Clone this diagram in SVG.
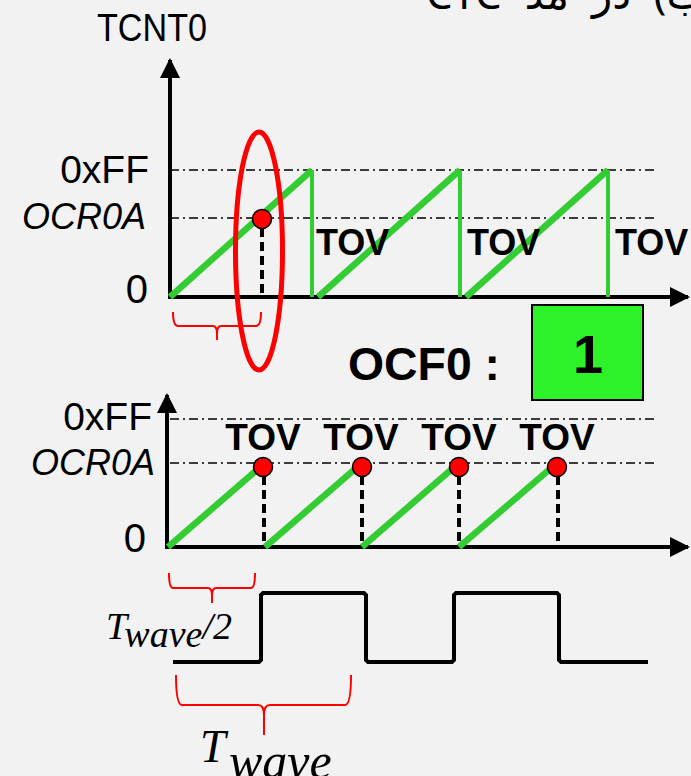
<svg xmlns="http://www.w3.org/2000/svg" width="691" height="776" viewBox="0 0 691 776">
<defs>
<style>
.ax{stroke:#000;stroke-width:4;fill:none}
.dd{stroke:#000;stroke-width:1.6;stroke-dasharray:9 4 2 4;fill:none}
.gr{stroke:#33cc33;stroke-width:6.5;fill:none;stroke-linecap:butt}
.grv{stroke:#33cc33;stroke-width:4;fill:none}
.vd{stroke:#000;stroke-width:4;stroke-dasharray:9 5;fill:none}
.dot{fill:#ff0000;stroke:#000;stroke-width:1.5}
.br{stroke:#ff0000;stroke-width:2;fill:none}
.lbl{font-family:"Liberation Sans",Arial,sans-serif;fill:#000}
.it{font-style:italic}
.b{font-weight:bold}
.m{font-family:"Liberation Serif","Times New Roman",serif;font-style:italic;fill:#000}
.fa{font-family:"Noto Sans","DejaVu Sans",sans-serif;fill:#000}
</style>
<marker id="ah" viewBox="0 0 10 10" refX="9" refY="5" markerWidth="5" markerHeight="5" orient="auto-start-reverse" markerUnits="strokeWidth">
<path d="M0,0 L10,5 L0,10 z" fill="#000"/>
</marker>
</defs>
<rect width="691" height="776" fill="#f2f2f2"/>
<text x="706" y="9" class="fa" font-size="42" word-spacing="12" direction="rtl" text-anchor="start">ب) در مد CTC</text>

<g id="top-chart">
<text x="97" y="41" class="lbl" font-size="38" textLength="110" lengthAdjust="spacingAndGlyphs">TCNT0</text>
<text x="149" y="183" class="lbl" font-size="39" text-anchor="end">0xFF</text>
<text x="146" y="229" class="lbl it" font-size="36" text-anchor="end">OCR0A</text>
<text x="148" y="303" class="lbl" font-size="40" text-anchor="end">0</text>
</g>

<g id="connectors">
<line x1="170" y1="299" x2="170" y2="60" class="ax" marker-end="url(#ah)"/>
<line x1="168" y1="297" x2="688" y2="297" class="ax" marker-end="url(#ah)"/>
<line x1="170" y1="170" x2="658" y2="170" class="dd"/>
<line x1="170" y1="218" x2="658" y2="218" class="dd"/>
<line x1="170" y1="297" x2="312" y2="170" class="gr"/>
<line x1="312" y1="170" x2="312" y2="297" class="grv"/>
<line x1="318" y1="297" x2="460" y2="170" class="gr"/>
<line x1="460" y1="170" x2="460" y2="297" class="grv"/>
<line x1="466" y1="297" x2="608" y2="170" class="gr"/>
<line x1="608" y1="170" x2="608" y2="297" class="grv"/>
<line x1="262" y1="228" x2="262" y2="296" class="vd"/>

<line x1="167" y1="549" x2="167" y2="395" class="ax" marker-end="url(#ah)"/>
<line x1="165" y1="547" x2="688" y2="547" class="ax" marker-end="url(#ah)"/>
<line x1="170" y1="419" x2="655" y2="419" class="dd"/>
<line x1="170" y1="463" x2="658" y2="463" class="dd"/>
<line x1="168" y1="547" x2="258" y2="469" class="gr"/>
<line x1="265" y1="547" x2="355" y2="469" class="gr"/>
<line x1="362" y1="547" x2="452" y2="469" class="gr"/>
<line x1="459" y1="547" x2="550" y2="469" class="gr"/>
<line x1="264" y1="476" x2="264" y2="545" class="vd"/>
<line x1="362" y1="476" x2="362" y2="545" class="vd"/>
<line x1="459" y1="476" x2="459" y2="545" class="vd"/>
<line x1="558" y1="476" x2="558" y2="545" class="vd"/>

<polyline points="173,662 259,662 261,660 261,595 263,593 364,593 366,595 366,660 368,662 452,662 454,660 454,595 456,593 557,593 559,595 559,660 561,662 648,662" fill="none" stroke="#000" stroke-width="4"/>
</g>

<g id="top-markers">
<circle cx="262" cy="219" r="9.5" class="dot"/>
<ellipse cx="259" cy="251" rx="23.5" ry="119" fill="none" stroke="#ff0000" stroke-width="5"/>
<path d="M173,312 Q173,326 178,326 L213,326 Q217,326 217,334 L217,340 M217,334 Q217,326 221,326 L256,326 Q261,326 261,312" class="br"/>
<text x="316" y="255" class="lbl b" font-size="36">TOV</text>
<text x="467" y="255" class="lbl b" font-size="36">TOV</text>
<text x="615" y="255" class="lbl b" font-size="36">TOV</text>
</g>

<g id="ocf0">
<text x="348" y="380" class="lbl b" font-size="46" textLength="152" lengthAdjust="spacingAndGlyphs">OCF0 :</text>
<rect x="532" y="305" width="111" height="95" fill="#2df22a" stroke="#000" stroke-width="2"/>
<text x="588" y="373" class="lbl b" font-size="54" text-anchor="middle">1</text>
</g>

<g id="bottom-chart">
<text x="152" y="430" class="lbl" font-size="39" text-anchor="end">0xFF</text>
<text x="155" y="475" class="lbl it" font-size="36" text-anchor="end">OCR0A</text>
<text x="146" y="552" class="lbl" font-size="40" text-anchor="end">0</text>
<text x="263" y="450" class="lbl b" font-size="37" text-anchor="middle">TOV</text>
<text x="361" y="450" class="lbl b" font-size="37" text-anchor="middle">TOV</text>
<text x="459" y="450" class="lbl b" font-size="37" text-anchor="middle">TOV</text>
<text x="557" y="450" class="lbl b" font-size="37" text-anchor="middle">TOV</text>
<circle cx="263" cy="467" r="9.5" class="dot"/>
<circle cx="362" cy="467" r="9.5" class="dot"/>
<circle cx="459" cy="467" r="9.5" class="dot"/>
<circle cx="557" cy="467" r="9.5" class="dot"/>
</g>

<g id="wave-labels">
<path d="M169,573 Q169,588 173,588 L208,588 Q212,588 212,596 L212,603 M212,596 Q212,588 216,588 L251,588 Q255,588 255,573" class="br"/>
<text x="106" y="639" class="m" font-size="38">T<tspan dy="8">wave</tspan><tspan dy="-8">/2</tspan></text>
<path d="M176,675 Q176,705 182,705 L258,705 Q264,705 264,715 L264,735 M264,715 Q264,705 270,705 L345,705 Q351,705 351,675" class="br"/>
<text x="200" y="762" class="m" font-size="46">T</text>
<text x="229" y="778" class="m" font-size="50">wave</text>
</g>
</svg>
